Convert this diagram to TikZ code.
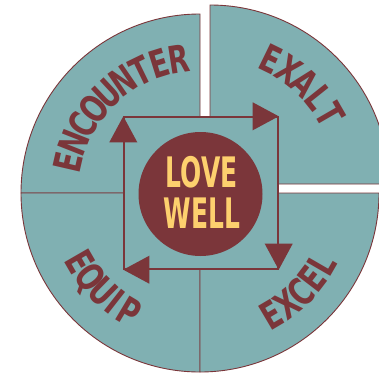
\documentclass[tikz,border=0pt]{standalone}
\usepackage{fontspec}
\usetikzlibrary{calc}
\newfontfamily\arcfont[FakeStretch=0.8]{DejaVu Sans Condensed}
\newfontfamily\lovefont[FakeStretch=0.66]{DejaVu Sans Condensed}
\definecolor{teal}{HTML}{80B0B2}
\definecolor{wine}{HTML}{7B363A}
\definecolor{gold}{HTML}{FDD06E}
\tikzset{
  quad/.style={fill=teal, draw=wine, line width=0.9pt},
  sqbox/.style={fill=teal, draw=wine, line width=1.4pt, minimum width=154pt, minimum height=152pt, inner sep=0pt},
  head/.style={fill=wine},
  core/.style={circle, fill=wine, minimum size=124pt, inner sep=0pt},
  lovetext/.style={text=gold, font=\lovefont\bfseries\fontsize{42}{42}\selectfont, inner sep=0pt},
  arclet/.style={text=wine, font=\arcfont\bfseries\fontsize{38}{38}\selectfont, inner sep=0pt, anchor=base}
}
\begin{document}
\begin{tikzpicture}[x=1pt,y=1pt]
\useasboundingbox (0,0) rectangle (379,373);
\coordinate (C) at (200,180);
\coordinate (CX) at (210,189);
% quadrants
\filldraw[quad] (C) -- ++(180:179) arc[start angle=180,end angle=90,radius=179] -- cycle;
\filldraw[quad] (C) -- ++(270:179) arc[start angle=270,end angle=180,radius=179] -- cycle;
\filldraw[quad] (C) -- ++(360:179) arc[start angle=360,end angle=270,radius=179] -- cycle;
\filldraw[quad] (CX) -- ++(90:179) arc[start angle=90,end angle=0,radius=179] -- cycle;
% inner square
\node[sqbox] (sq) at (201,180) {};
% arrowheads (clockwise cycle)
\fill[head] (sq.north east) -- ++(-26,14) -- ++(0,-28) -- cycle;
\fill[head] (sq.south east) -- ++(-14,26) -- ++(28,0) -- cycle;
\fill[head] (sq.south west) -- ++(26,14) -- ++(0,-28) -- cycle;
\fill[head] (sq.north west) -- ++(-14,-26) -- ++(28,0) -- cycle;
% centre
\node[core] (core) at (200.5,179) {};
\node[lovetext] (love) at (201.5,201) {LOVE};
\node[lovetext] (well) at (202,159.5) {WELL};
% curved labels, letter by letter
\foreach \l/\a [count=\i] in {E/167,N/158.5,C/150,O/141.5,U/133,N/124.5,T/116,E/107.5,R/99}
  \node[arclet, rotate=\a-90] (enc\i) at ($(C)+(\a:122)$) {\l};
\foreach \l/\a [count=\i] in {E/64,X/55.5,A/47,L/38.5,T/30}
  \node[arclet, rotate=\a-90] (exa\i) at ($(CX)+(\a:125)$) {\l};
\foreach \l/\a [count=\i] in {E/210,Q/217.8,U/225.5,I/232,P/239}
  \node[arclet, rotate=\a+90] (equ\i) at ($(C)+(\a:152)$) {\l};
\foreach \l/\a [count=\i] in {E/300.6,X/308,C/315.3,E/322.6,L/330}
  \node[arclet, rotate=\a+90] (exc\i) at ($(C)+(\a:155)$) {\l};
\end{tikzpicture}
\end{document}
